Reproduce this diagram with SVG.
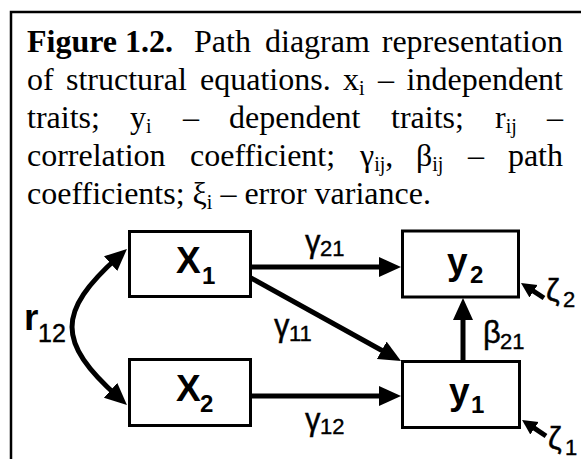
<svg xmlns="http://www.w3.org/2000/svg" width="581" height="459" viewBox="0 0 581 459">
<style>
.cap{font-family:"Liberation Serif","Times New Roman",serif;font-size:32px;fill:#000}
.b{font-weight:bold}
.sub{font-size:20px}
.box{fill:#fff;stroke:#000;stroke-width:3}
.nl{font-family:"Liberation Sans",Arial,sans-serif;font-weight:bold;font-size:37px;fill:#000}
.ns{font-size:24px}
.gl{font-family:"Liberation Sans",Arial,sans-serif;font-size:31px;fill:#000;stroke:#000;stroke-width:0.4}
.gs{font-size:22px}
.con{fill:none;stroke:#000;stroke-width:5}
</style>
<defs>
<marker id="ah" markerUnits="userSpaceOnUse" markerWidth="24" markerHeight="22" refX="10" refY="10" orient="auto-start-reverse"><path d="M0,0 L22,10 L0,20 z" fill="#000"/></marker>
<marker id="sh" markerUnits="userSpaceOnUse" markerWidth="16" markerHeight="16" refX="7" refY="7.5" orient="auto"><path d="M0,0 L15,7.5 L0,15 z" fill="#000"/></marker>
</defs>
<rect x="0" y="0" width="581" height="459" fill="#fff"/>
<rect x="11" y="12" width="620" height="520" fill="none" stroke="#000" stroke-width="2.5"/>
<g id="caption">
<text class="cap" y="52"><tspan x="27" class="b">Figure 1.2.</tspan><tspan x="194">Path</tspan><tspan x="265">diagram</tspan><tspan x="563" text-anchor="end">representation</tspan></text>
<text class="cap" y="90"><tspan x="27">of</tspan><tspan x="66">structural</tspan><tspan x="200">equations.</tspan><tspan x="343">x</tspan><tspan class="sub" dy="5">i</tspan><tspan x="378" dy="-5">–</tspan><tspan x="563" text-anchor="end">independent</tspan></text>
<text class="cap" y="128"><tspan x="27">traits;</tspan><tspan x="130">y</tspan><tspan class="sub" dy="5">i</tspan><tspan x="183" dy="-5">–</tspan><tspan x="229">dependent</tspan><tspan x="391">traits;</tspan><tspan x="495">r</tspan><tspan class="sub" dy="5">ij</tspan><tspan x="563" dy="-5" text-anchor="end">–</tspan></text>
<text class="cap" y="166"><tspan x="27">correlation</tspan><tspan x="190">coefficient;</tspan><tspan x="360">γ</tspan><tspan class="sub" dy="5">ij</tspan><tspan dy="-5">,</tspan><tspan x="416">β</tspan><tspan class="sub" dy="5">ij</tspan><tspan x="468" dy="-5">–</tspan><tspan x="563" text-anchor="end">path</tspan></text>
<text class="cap" x="27" y="204">coefficients; ξ<tspan class="sub" dy="5">i</tspan><tspan dy="-5"> – error variance.</tspan></text>
</g>
<g id="connectors">
<path class="con" d="M251,267 H389" marker-end="url(#ah)"/>
<path class="con" d="M251,396 H389" marker-end="url(#ah)"/>
<path class="con" stroke-width="4.5" d="M251,278 L390.5,355.2" marker-end="url(#ah)"/>
<path class="con" d="M463,361 V310" marker-end="url(#ah)"/>
<path class="con" d="M118,257 C56.7,312 56.7,342 118,397" marker-start="url(#ah)" marker-end="url(#ah)"/>
<path class="con" d="M544,298 L527.7,287.4" marker-end="url(#sh)"/>
<path class="con" d="M546,436 L528.7,424.4" marker-end="url(#sh)"/>
</g>
<g id="x1"><rect class="box" x="129.5" y="231.5" width="121" height="65"/><text class="nl" x="176" y="273">X<tspan class="ns" x="202" y="284">1</tspan></text></g>
<g id="x2"><rect class="box" x="129.5" y="359.5" width="121" height="66"/><text class="nl" x="176" y="401">X<tspan class="ns" x="200" y="412">2</tspan></text></g>
<g id="y2"><rect class="box" x="402.5" y="231" width="116" height="66"/><text class="nl" x="447" y="274">y<tspan class="ns" x="470" y="283">2</tspan></text></g>
<g id="y1"><rect class="box" x="402.5" y="361.5" width="117" height="66"/><text class="nl" x="449" y="404">y<tspan class="ns" x="471" y="413">1</tspan></text></g>
<g id="labels">
<text class="nl" x="24" y="330">r</text>
<text class="gl" style="font-size:25px" x="38" y="342">12</text>
<text class="gl" x="305" y="252">γ<tspan class="gs" x="320" y="256">21</tspan></text>
<text class="gl" x="274" y="336">γ<tspan class="gs" x="289" y="341">11</tspan></text>
<text class="gl" x="305" y="430">γ<tspan class="gs" x="320" y="434">12</tspan></text>
<text class="gl" x="483" y="343">β<tspan class="gs" x="500" y="349">21</tspan></text>
<text class="gl" x="546" y="301">ζ<tspan class="gs" x="563" y="307">2</tspan></text>
<text class="gl" x="548" y="449">ζ<tspan class="gs" x="565" y="455">1</tspan></text>
</g>
</svg>
